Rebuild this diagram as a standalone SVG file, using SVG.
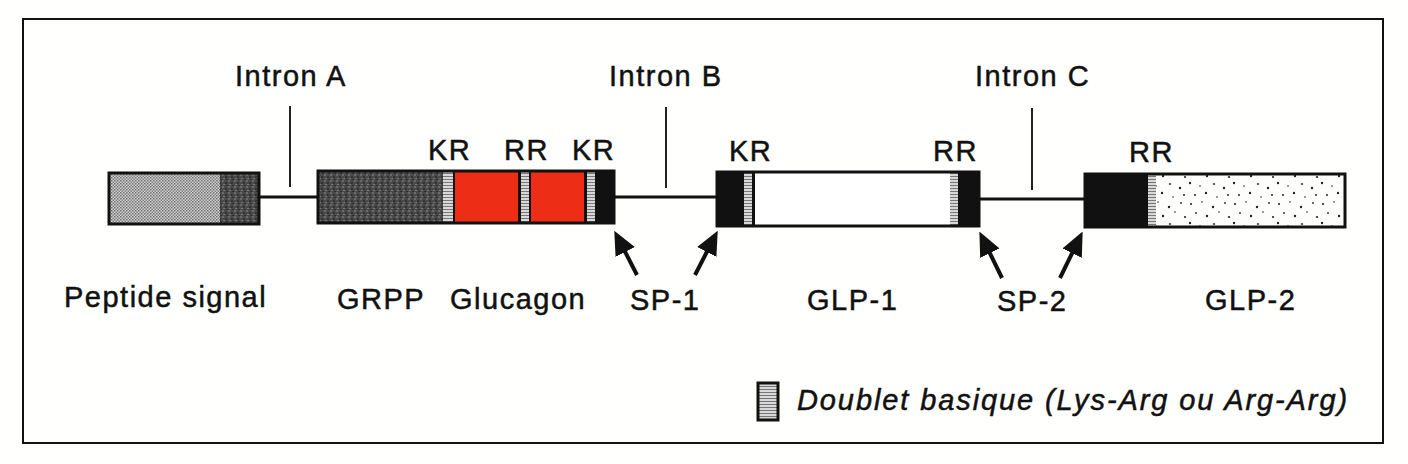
<svg xmlns="http://www.w3.org/2000/svg" width="1408" height="464" viewBox="0 0 1408 464">
<style>
text{font-family:"Liberation Sans",Arial,Helvetica,sans-serif;font-size:29px;fill:#111;stroke:#111;stroke-width:0.5;letter-spacing:1.5px}
.it{font-style:italic;letter-spacing:1.9px}
.box{stroke:#111;stroke-width:3}
.blk{fill:#111}
.ln{stroke:#111;stroke-width:3;fill:none}
.tick{stroke:#222;stroke-width:2;fill:none}
.arr{stroke:#111;stroke-width:4;fill:none;marker-end:url(#ah)}
</style>
<defs>
<pattern id="light" width="3" height="3" patternUnits="userSpaceOnUse">
<rect width="3" height="3" fill="#d0d0d0"/>
<rect width="1.5" height="1.5" fill="#707070"/>
<rect x="1.5" y="1.5" width="1.5" height="1.5" fill="#808080"/>
</pattern>
<pattern id="dark" width="6" height="6" patternUnits="userSpaceOnUse">
<rect width="6" height="6" fill="#4a4a4a"/>
<rect x="0" y="0" width="2" height="2" fill="#6a6a6a"/>
<rect x="3" y="2" width="2" height="2" fill="#333"/>
<rect x="1" y="4" width="2" height="1" fill="#777"/>
<rect x="4" y="5" width="2" height="1" fill="#2e2e2e"/>
</pattern>
<pattern id="stripe" width="8" height="3" patternUnits="userSpaceOnUse">
<rect width="8" height="3" fill="#d8d8d8"/>
<rect y="2" width="8" height="1" fill="#777"/>
</pattern>
<pattern id="dots" width="44" height="40" patternUnits="userSpaceOnUse">
<rect width="44" height="40" fill="#fdfdfb"/>
<g fill="#222">
<circle cx="3" cy="4" r="1.1"/><circle cx="14" cy="2" r="0.8"/><circle cx="25" cy="7" r="1.2"/><circle cx="37" cy="3" r="0.9"/>
<circle cx="8" cy="13" r="0.9"/><circle cx="19" cy="16" r="1.2"/><circle cx="31" cy="12" r="0.8"/><circle cx="41" cy="17" r="1.1"/>
<circle cx="2" cy="23" r="1.2"/><circle cx="12" cy="26" r="0.8"/><circle cx="26" cy="24" r="1"/><circle cx="36" cy="28" r="1.2"/>
<circle cx="7" cy="35" r="1"/><circle cx="18" cy="33" r="1.2"/><circle cx="29" cy="37" r="0.8"/><circle cx="40" cy="35" r="1"/>
</g>
</pattern>
<marker id="ah" markerWidth="6" markerHeight="6" refX="4.5" refY="3" orient="auto" markerUnits="strokeWidth">
<path d="M0,0.3 L6,3 L0,5.7 Z" fill="#111"/>
</marker>
</defs>
<rect x="0" y="0" width="1408" height="464" fill="#fffffd"/>
<rect x="23" y="19" width="1360" height="424" fill="none" stroke="#111" stroke-width="2"/>

<g id="connectors">
<line class="ln" x1="259" y1="197" x2="318" y2="197"/>
<line class="ln" x1="614" y1="197" x2="717" y2="197"/>
<line class="ln" x1="979" y1="199" x2="1085" y2="199"/>
<line class="tick" x1="290" y1="106" x2="290" y2="187"/>
<line class="tick" x1="666" y1="107" x2="666" y2="188"/>
<line class="tick" x1="1032" y1="108" x2="1032" y2="190"/>
<line class="arr" x1="637" y1="275" x2="617" y2="236"/>
<line class="arr" x1="695" y1="275" x2="715" y2="236"/>
<line class="arr" x1="1002" y1="278" x2="982" y2="237"/>
<line class="arr" x1="1060" y1="278" x2="1080" y2="237"/>
</g>

<g id="peptide-signal">
<rect x="109" y="173" width="111" height="51" fill="url(#light)"/>
<rect x="220" y="173" width="39" height="51" fill="url(#dark)"/>
<rect class="box" x="109" y="173" width="150" height="51" fill="none"/>
<text x="64" y="307">Peptide signal</text>
</g>

<g id="grpp-glucagon">
<rect x="318" y="171" width="125" height="52" fill="url(#dark)"/>
<rect x="443" y="171" width="10" height="52" fill="url(#stripe)"/>
<rect x="453" y="171" width="2" height="52" class="blk"/>
<rect x="455" y="171" width="63" height="52" fill="#ee2d16"/>
<rect x="518" y="171" width="3" height="52" class="blk"/>
<rect x="521" y="171" width="8" height="52" fill="url(#stripe)"/>
<rect x="529" y="171" width="2" height="52" class="blk"/>
<rect x="531" y="171" width="53" height="52" fill="#ee2d16"/>
<rect x="584" y="171" width="3" height="52" class="blk"/>
<rect x="587" y="171" width="8" height="52" fill="url(#stripe)"/>
<rect x="595" y="171" width="19" height="52" class="blk"/>
<rect class="box" x="318" y="171" width="296" height="52" fill="none"/>
<text x="337" y="309">GRPP</text>
<text x="450" y="309">Glucagon</text>
<text x="428" y="160">KR</text>
<text x="504" y="160">RR</text>
<text x="572" y="160">KR</text>
</g>

<g id="sp1">
<text x="630" y="310">SP-1</text>
</g>

<g id="intron-a"><text x="235" y="86">Intron A</text></g>
<g id="intron-b"><text x="609" y="86">Intron B</text></g>
<g id="intron-c"><text x="975" y="86">Intron C</text></g>

<g id="glp1">
<rect x="717" y="172" width="27" height="54" class="blk"/>
<rect x="744" y="172" width="8" height="54" fill="url(#stripe)"/>
<rect x="752" y="172" width="3" height="54" class="blk"/>
<rect x="755" y="172" width="195" height="54" fill="#fff"/>
<rect x="950" y="172" width="8" height="54" fill="url(#stripe)"/>
<rect x="958" y="172" width="21" height="54" class="blk"/>
<rect class="box" x="717" y="172" width="262" height="54" fill="none"/>
<text x="729" y="161">KR</text>
<text x="933" y="161">RR</text>
<text x="807" y="310">GLP-1</text>
</g>

<g id="sp2">
<text x="997" y="311">SP-2</text>
</g>

<g id="glp2">
<rect x="1085" y="174" width="63" height="53" class="blk"/>
<rect x="1148" y="174" width="8" height="53" fill="url(#stripe)"/>
<rect x="1156" y="174" width="189" height="53" fill="url(#dots)"/>
<rect class="box" x="1085" y="174" width="260" height="53" fill="none"/>
<text x="1129" y="162">RR</text>
<text x="1205" y="310">GLP-2</text>
</g>

<g id="legend">
<rect x="758" y="383" width="20" height="37" fill="url(#stripe)" stroke="#111" stroke-width="3"/>
<text class="it" x="797" y="410">Doublet basique (Lys-Arg ou Arg-Arg)</text>
</g>
</svg>
